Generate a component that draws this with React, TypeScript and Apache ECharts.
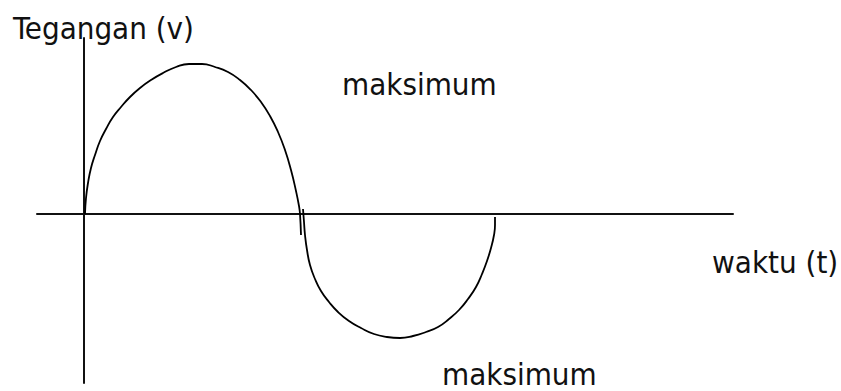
import React, { useEffect, useRef } from "react";
import * as echarts from "echarts";

// Time (t) and voltage (v) readings, origin at the axis crossing
const positiveT = [1, 2, 4, 7, 11, 16, 22, 29, 37, 46, 56, 67, 79, 92, 105, 118, 131, 144, 156, 167, 177, 186, 194, 201, 207, 212, 215, 216, 217];
const positiveV = [0, 16, 31, 46, 59, 73, 85, 97, 107, 117, 126, 134, 141, 147, 150, 150, 147, 142, 134, 124, 112, 98, 82, 64, 44, 23, 8, 0, -21];
const negativeT = [219, 220, 221, 223, 226, 231, 237, 245, 254, 265, 277, 290, 303, 316, 329, 342, 354, 365, 375, 384, 392, 398, 403, 407, 410, 411, 411];
const negativeV = [5, -8, -21, -36, -51, -65, -77, -88, -98, -107, -114, -120, -123, -124, -122, -118, -113, -105, -96, -85, -73, -60, -47, -34, -21, -11, -3];

const labels = {
  yName: "Tegangan (v)",
  xName: "waktu (t)",
  peak: "maksimum",
  trough: "maksimum",
};

const FONT = '31px "DejaVu Sans Condensed", "DejaVu Sans", sans-serif';

export default function App() {
  const ref = useRef<HTMLDivElement>(null);
  useEffect(() => {
    if (!ref.current) return;
    const chart = echarts.init(ref.current, null, { renderer: "svg" });
    const pos = positiveT.map((t, i) => [t, positiveV[i]]);
    const neg = negativeT.map((t, i) => [t, negativeV[i]]);
    const axisLine = { show: true, onZero: true, lineStyle: { color: "#111", width: 2 } };
    chart.setOption({
      animation: false,
      backgroundColor: "#fff",
      grid: { left: 37, right: 108, top: 38, bottom: 8 },
      xAxis: {
        type: "value",
        min: -47,
        max: 649,
        axisLine,
        axisTick: { show: false },
        axisLabel: { show: false },
        splitLine: { show: false },
      },
      yAxis: {
        type: "value",
        min: -169,
        max: 176,
        axisLine,
        axisTick: { show: false },
        axisLabel: { show: false },
        splitLine: { show: false },
      },
      series: [
        {
          type: "line",
          data: pos,
          smooth: 0.5,
          symbol: "none",
          clip: false,
          lineStyle: { color: "#000", width: 1.8 },
        },
        {
          type: "line",
          data: neg,
          smooth: 0.5,
          symbol: "none",
          clip: false,
          lineStyle: { color: "#000", width: 1.8 },
        },
      ],
      graphic: [
        { type: "text", left: 13, top: 12, style: { text: labels.yName, font: FONT, fill: "#111" } },
        { type: "text", left: 342, top: 68, style: { text: labels.peak, font: FONT, fill: "#111" } },
        { type: "text", left: 712, top: 246, style: { text: labels.xName, font: FONT, fill: "#111" } },
        { type: "text", left: 442, top: 358, style: { text: labels.trough, font: FONT, fill: "#111" } },
      ],
    });
    return () => chart.dispose();
  }, []);
  return (
    <div
      ref={ref}
      style={{ position: "fixed", left: 0, top: 0, width: 841, height: 391, background: "#fff" }}
    />
  );
}
